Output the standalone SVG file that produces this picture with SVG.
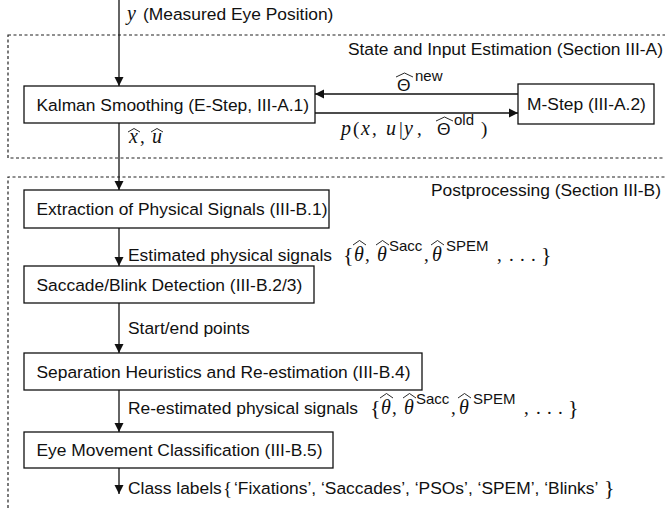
<svg xmlns="http://www.w3.org/2000/svg" width="665" height="510" viewBox="0 0 665 510">
<defs>
<style>
.box{fill:#fff;stroke:#111;stroke-width:1.3}
.t{font-family:"Liberation Sans",Arial,sans-serif;font-size:17.4px;fill:#111}
.sup{font-family:"Liberation Sans",Arial,sans-serif;font-size:15px;fill:#111}
.m{font-family:"Liberation Serif","Times New Roman",serif;font-style:italic;font-size:20px;fill:#111}
.r{font-family:"Liberation Serif","Times New Roman",serif;font-size:19px;fill:#111}
.br{font-family:"Liberation Serif","Times New Roman",serif;font-size:22px;fill:#111}
.hat{fill:none;stroke:#111;stroke-width:0.9}
.ln{fill:none;stroke:#111;stroke-width:1.3}
.dash{fill:none;stroke:#222;stroke-width:1.2;stroke-dasharray:3 2.5}
</style>
<marker id="ah" markerWidth="10" markerHeight="10" refX="9" refY="5" orient="auto" markerUnits="userSpaceOnUse">
<path d="M0,0.5 L9,5 L0,9.5 Z" fill="#111"/>
</marker>
</defs>
<rect width="665" height="510" fill="#fff"/>

<g id="regions">
<rect class="dash" x="8" y="35" width="670" height="123"/>
<path class="dash" d="M670 177 H8 V515"/>
<text class="t" x="663" y="55" text-anchor="end">State and Input Estimation (Section III-A)</text>
<text class="t" x="661" y="196" text-anchor="end">Postprocessing (Section III-B)</text>
</g>

<g id="connectors">
<line class="ln" x1="119" y1="0" x2="119" y2="86" marker-end="url(#ah)"/>
<line class="ln" x1="518" y1="94" x2="315" y2="94" marker-end="url(#ah)"/>
<line class="ln" x1="315" y1="113" x2="518" y2="113" marker-end="url(#ah)"/>
<line class="ln" x1="119" y1="123" x2="119" y2="190" marker-end="url(#ah)"/>
<line class="ln" x1="119" y1="228" x2="119" y2="266" marker-end="url(#ah)"/>
<line class="ln" x1="119" y1="303" x2="119" y2="353" marker-end="url(#ah)"/>
<line class="ln" x1="119" y1="390" x2="119" y2="432" marker-end="url(#ah)"/>
<line class="ln" x1="119" y1="468" x2="119" y2="494" marker-end="url(#ah)"/>
</g>

<g id="labels">
<text class="m" x="127" y="20">y</text>
<text class="t" x="143" y="20">(Measured Eye Position)</text>

<text class="t" x="397" y="91">Θ</text>
<path class="hat" d="M396 77 L404.5 73 L413 77"/>
<text class="sup" x="415" y="81">new</text>

<text class="m" x="341" y="135">p</text>
<text class="r" x="353" y="135">(</text>
<text class="m" x="361" y="135">x</text>
<text class="r" x="372" y="135">,</text>
<text class="m" x="386" y="135">u</text>
<text class="r" x="399" y="135">|</text>
<text class="m" x="404" y="135">y</text>
<text class="r" x="417" y="135">,</text>
<text class="t" x="437" y="135">Θ</text>
<path class="hat" d="M436 121 L444.5 117 L453 121"/>
<text class="sup" x="454" y="125">old</text>
<text class="r" x="481" y="135">)</text>

<text class="m" x="129" y="143">x</text>
<path class="hat" d="M128 132 L134 128.5 L140 132"/>
<text class="r" x="140" y="143">,</text>
<text class="m" x="152" y="143">u</text>
<path class="hat" d="M151 132 L157 128.5 L163 132"/>

<text class="t" x="128" y="261">Estimated physical signals</text>
<g id="set1">
<text class="br" x="343" y="262">{</text>
<text class="m" x="354" y="261">θ</text>
<path class="hat" d="M353 245 L359.5 240.5 L366 245"/>
<text class="r" x="365" y="261">,</text>
<text class="m" x="377" y="261">θ</text>
<path class="hat" d="M376 245 L382.5 240.5 L389 245"/>
<text class="sup" x="389" y="251">Sacc</text>
<text class="r" x="424" y="261">,</text>
<text class="m" x="432" y="261">θ</text>
<path class="hat" d="M431 245 L437.5 240.5 L444 245"/>
<text class="sup" x="446" y="251">SPEM</text>
<text class="r" x="497" y="261">,</text>
<text class="r" x="509" y="261">.</text>
<text class="r" x="520" y="261">.</text>
<text class="r" x="531" y="261">.</text>
<text class="br" x="541" y="262">}</text>
</g>

<text class="t" x="128" y="334">Start/end points</text>

<text class="t" x="128" y="414">Re-estimated physical signals</text>
<g id="set2" transform="translate(27,153)">
<text class="br" x="343" y="262">{</text>
<text class="m" x="354" y="261">θ</text>
<path class="hat" d="M353 245 L359.5 240.5 L366 245"/>
<text class="r" x="365" y="261">,</text>
<text class="m" x="377" y="261">θ</text>
<path class="hat" d="M376 245 L382.5 240.5 L389 245"/>
<text class="sup" x="389" y="251">Sacc</text>
<text class="r" x="424" y="261">,</text>
<text class="m" x="432" y="261">θ</text>
<path class="hat" d="M431 245 L437.5 240.5 L444 245"/>
<text class="sup" x="446" y="251">SPEM</text>
<text class="r" x="497" y="261">,</text>
<text class="r" x="509" y="261">.</text>
<text class="r" x="520" y="261">.</text>
<text class="r" x="531" y="261">.</text>
<text class="br" x="541" y="262">}</text>
</g>

<text class="t" x="128" y="494">Class labels</text>
<text class="br" x="223" y="495" style="font-size:19px">{</text>
<text class="t" x="234" y="494">‘Fixations’, ‘Saccades’, ‘PSOs’, ‘SPEM’, ‘Blinks’</text>
<text class="br" x="604" y="495">}</text>
</g>

<g id="kalman">
<rect class="box" x="24" y="86" width="291" height="37"/>
<text class="t" x="36.5" y="111">Kalman Smoothing (E-Step, III-A.1)</text>
</g>
<g id="mstep">
<rect class="box" x="518" y="84" width="136" height="40"/>
<text class="t" x="527" y="110">M-Step (III-A.2)</text>
</g>
<g id="extraction">
<rect class="box" x="24" y="190" width="305" height="38"/>
<text class="t" x="36.5" y="215">Extraction of Physical Signals (III-B.1)</text>
</g>
<g id="detection">
<rect class="box" x="24" y="266" width="290" height="37"/>
<text class="t" x="36.5" y="291">Saccade/Blink Detection (III-B.2/3)</text>
</g>
<g id="separation">
<rect class="box" x="24" y="353" width="398" height="37"/>
<text class="t" x="36.5" y="378">Separation Heuristics and Re-estimation (III-B.4)</text>
</g>
<g id="classification">
<rect class="box" x="24" y="432" width="309" height="36"/>
<text class="t" x="36.5" y="456">Eye Movement Classification (III-B.5)</text>
</g>
</svg>
